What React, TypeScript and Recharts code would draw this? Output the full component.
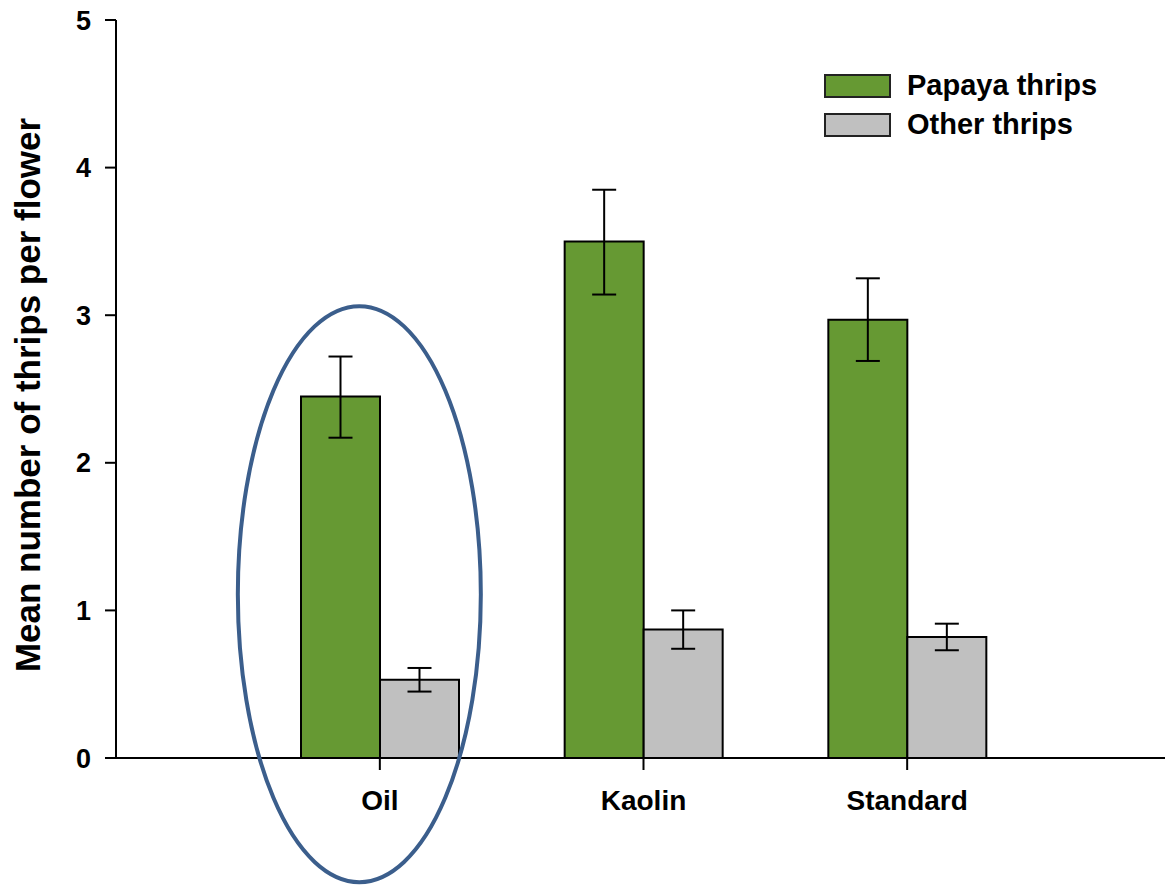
import React from "react";
import {
  BarChart,
  Bar,
  XAxis,
  YAxis,
  ErrorBar,
  Legend,
  ReferenceDot,
} from "recharts";

const categories = ["Oil", "Kaolin", "Standard"];
const papaya = [2.45, 3.5, 2.97];
const papayaLow = [2.17, 3.14, 2.69];
const papayaHigh = [2.72, 3.85, 3.25];
const other = [0.53, 0.87, 0.82];
const otherLow = [0.45, 0.74, 0.73];
const otherHigh = [0.61, 1.0, 0.91];
const yTicks = [0, 1, 2, 3, 4, 5];
const seriesNames = ["Papaya thrips", "Other thrips"];
const highlightCategory = "Oil";
const highlightCenterY = 1.11;

const GREEN = "#669933";
const GREY = "#C0C0C0";
const FONT = '"Liberation Sans", Arial, Helvetica, sans-serif';

const data = categories.map((name, i) => ({
  name,
  papaya: papaya[i],
  papayaErr: [papaya[i] - papayaLow[i], papayaHigh[i] - papaya[i]],
  other: other[i],
  otherErr: [other[i] - otherLow[i], otherHigh[i] - other[i]],
}));

const renderLegend = () => (
  <div style={{ fontFamily: FONT, fontWeight: "bold", fontSize: 29, color: "#000" }}>
    {[GREEN, GREY].map((c, i) => (
      <div
        key={i}
        style={{ display: "flex", alignItems: "center", height: 39, lineHeight: "39px" }}
      >
        <span
          style={{
            display: "inline-block",
            width: 63,
            height: 20,
            background: c,
            border: "2px solid #222",
            marginRight: 16,
          }}
        />
        <span>{seriesNames[i]}</span>
      </div>
    ))}
  </div>
);

const EllipseShape = (props: any) => {
  const { cx, cy } = props;
  if (cx == null || cy == null) return null;
  return (
    <ellipse
      cx={cx - 20.5}
      cy={cy}
      rx={121.5}
      ry={288}
      fill="none"
      stroke="#3B5E8C"
      strokeWidth={4}
    />
  );
};

export default function App() {
  return (
    <div style={{ position: "absolute", left: 0, top: 0, background: "#fff" }}>
      <BarChart
        width={1165}
        height={885}
        data={data}
        margin={{ top: 20, right: 0, bottom: 0, left: 0 }}
        barGap={0}
        barSize={79}
      >
        <XAxis
          dataKey="name"
          height={127}
          padding={{ left: 132, right: 126 }}
          axisLine={{ stroke: "#000", strokeWidth: 2 }}
          tickLine={{ stroke: "#000", strokeWidth: 2 }}
          tickSize={12}
          tickMargin={20}
          tick={{ fill: "#000", fontFamily: FONT, fontWeight: "bold", fontSize: 28 }}
        />
        <YAxis
          width={116}
          domain={[0, 5]}
          ticks={yTicks}
          interval={0}
          axisLine={{ stroke: "#000", strokeWidth: 2 }}
          tickLine={{ stroke: "#000", strokeWidth: 2 }}
          tickSize={11}
          tickMargin={14}
          tick={{ fill: "#000", fontFamily: FONT, fontWeight: "bold", fontSize: 27 }}
          label={(p: any) => {
            const vb = p.viewBox || {};
            const cy = (vb.y ?? 20) + (vb.height ?? 738) / 2 + 6;
            return (
              <text
                x={40}
                y={cy}
                transform={`rotate(-90, 40, ${cy})`}
                textAnchor="middle"
                fontFamily={FONT}
                fontWeight="bold"
                fontSize={35}
                fill="#000"
              >
                Mean number of thrips per flower
              </text>
            );
          }}
        />
        <Legend
          content={renderLegend}
          layout="horizontal"
          verticalAlign="middle"
          align="center"
          wrapperStyle={{ left: 824, top: 66, width: 330 }}
        />
        <Bar
          dataKey="papaya"
          name={seriesNames[0]}
          fill={GREEN}
          stroke="#000"
          strokeWidth={2}
          isAnimationActive={false}
        >
          <ErrorBar dataKey="papayaErr" width={12} stroke="#000" strokeWidth={2} />
        </Bar>
        <Bar
          dataKey="other"
          name={seriesNames[1]}
          fill={GREY}
          stroke="#000"
          strokeWidth={2}
          isAnimationActive={false}
        >
          <ErrorBar dataKey="otherErr" width={12} stroke="#000" strokeWidth={2} />
        </Bar>
        <ReferenceDot
          x={highlightCategory}
          y={highlightCenterY}
          ifOverflow="visible"
          shape={EllipseShape}
        />
      </BarChart>
    </div>
  );
}
